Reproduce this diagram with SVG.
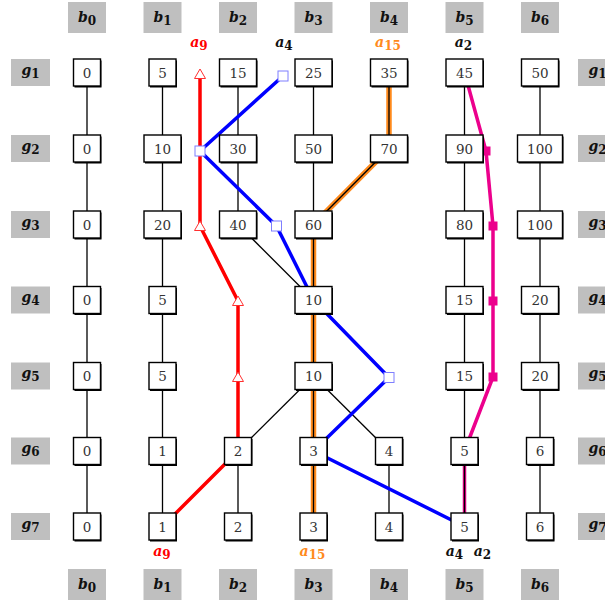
<svg xmlns="http://www.w3.org/2000/svg" width="605" height="601" viewBox="0 0 605 601">
<style>
.lab{fill:#bfbfbf}
.lt{font-family:"DejaVu Serif","Liberation Serif",serif;font-weight:bold;font-style:italic;font-size:14px;fill:#111;text-anchor:middle}
.sub{font-style:normal;font-size:12px}
.sh{fill:#000}
.bx{fill:#fff;stroke:#000;stroke-width:1.4}
.nt{font-family:"DejaVu Serif","Liberation Serif",serif;font-size:13.5px;fill:#333;text-anchor:middle}
.e{fill:none;stroke:#000;stroke-width:1.3}
.ann{font-family:"DejaVu Serif","Liberation Serif",serif;font-weight:bold;font-style:italic;font-size:14px;text-anchor:middle}
</style>
<defs>
<polygon id="tri" points="-5.5,4.5 0,-5 5.5,4.5" fill="#fff" stroke="#ff3030" stroke-width="1"/>
<rect id="bsq" x="-5" y="-5" width="10" height="10" fill="#fff" stroke="#7f7fff" stroke-width="1"/>
<rect id="msq" x="-4.5" y="-4.5" width="9" height="9" fill="#ec008c"/>
</defs>

<g id="labels">
<g id="lab-b-top">
<rect class="lab" x="68" y="2" width="38" height="31"/><text class="lt" x="87" y="21.5">b<tspan class="sub" dy="3">0</tspan></text>
<rect class="lab" x="143.5" y="2" width="38" height="31"/><text class="lt" x="162.5" y="21.5">b<tspan class="sub" dy="3">1</tspan></text>
<rect class="lab" x="219" y="2" width="38" height="31"/><text class="lt" x="238" y="21.5">b<tspan class="sub" dy="3">2</tspan></text>
<rect class="lab" x="294.5" y="2" width="38" height="31"/><text class="lt" x="313.5" y="21.5">b<tspan class="sub" dy="3">3</tspan></text>
<rect class="lab" x="370" y="2" width="38" height="31"/><text class="lt" x="389" y="21.5">b<tspan class="sub" dy="3">4</tspan></text>
<rect class="lab" x="445.5" y="2" width="38" height="31"/><text class="lt" x="464.5" y="21.5">b<tspan class="sub" dy="3">5</tspan></text>
<rect class="lab" x="521" y="2" width="38" height="31"/><text class="lt" x="540" y="21.5">b<tspan class="sub" dy="3">6</tspan></text>
</g>
<g id="lab-b-bottom">
<rect class="lab" x="68" y="569" width="38" height="31"/><text class="lt" x="87" y="588.5">b<tspan class="sub" dy="3">0</tspan></text>
<rect class="lab" x="143.5" y="569" width="38" height="31"/><text class="lt" x="162.5" y="588.5">b<tspan class="sub" dy="3">1</tspan></text>
<rect class="lab" x="219" y="569" width="38" height="31"/><text class="lt" x="238" y="588.5">b<tspan class="sub" dy="3">2</tspan></text>
<rect class="lab" x="294.5" y="569" width="38" height="31"/><text class="lt" x="313.5" y="588.5">b<tspan class="sub" dy="3">3</tspan></text>
<rect class="lab" x="370" y="569" width="38" height="31"/><text class="lt" x="389" y="588.5">b<tspan class="sub" dy="3">4</tspan></text>
<rect class="lab" x="445.5" y="569" width="38" height="31"/><text class="lt" x="464.5" y="588.5">b<tspan class="sub" dy="3">5</tspan></text>
<rect class="lab" x="521" y="569" width="38" height="31"/><text class="lt" x="540" y="588.5">b<tspan class="sub" dy="3">6</tspan></text>
</g>
<g id="lab-g-left">
<rect class="lab" x="11" y="59" width="39" height="27"/><text class="lt" x="30.5" y="74.5">g<tspan class="sub" dy="3">1</tspan></text>
<rect class="lab" x="11" y="135" width="39" height="27"/><text class="lt" x="30.5" y="150.5">g<tspan class="sub" dy="3">2</tspan></text>
<rect class="lab" x="11" y="211" width="39" height="27"/><text class="lt" x="30.5" y="226.5">g<tspan class="sub" dy="3">3</tspan></text>
<rect class="lab" x="11" y="286.5" width="39" height="27"/><text class="lt" x="30.5" y="302">g<tspan class="sub" dy="3">4</tspan></text>
<rect class="lab" x="11" y="362.5" width="39" height="27"/><text class="lt" x="30.5" y="378">g<tspan class="sub" dy="3">5</tspan></text>
<rect class="lab" x="11" y="437.5" width="39" height="27"/><text class="lt" x="30.5" y="453">g<tspan class="sub" dy="3">6</tspan></text>
<rect class="lab" x="11" y="513" width="39" height="27"/><text class="lt" x="30.5" y="528.5">g<tspan class="sub" dy="3">7</tspan></text>
</g>
<g id="lab-g-right">
<rect class="lab" x="578" y="59" width="39" height="27"/><text class="lt" x="597.5" y="74.5">g<tspan class="sub" dy="3">1</tspan></text>
<rect class="lab" x="578" y="135" width="39" height="27"/><text class="lt" x="597.5" y="150.5">g<tspan class="sub" dy="3">2</tspan></text>
<rect class="lab" x="578" y="211" width="39" height="27"/><text class="lt" x="597.5" y="226.5">g<tspan class="sub" dy="3">3</tspan></text>
<rect class="lab" x="578" y="286.5" width="39" height="27"/><text class="lt" x="597.5" y="302">g<tspan class="sub" dy="3">4</tspan></text>
<rect class="lab" x="578" y="362.5" width="39" height="27"/><text class="lt" x="597.5" y="378">g<tspan class="sub" dy="3">5</tspan></text>
<rect class="lab" x="578" y="437.5" width="39" height="27"/><text class="lt" x="597.5" y="453">g<tspan class="sub" dy="3">6</tspan></text>
<rect class="lab" x="578" y="513" width="39" height="27"/><text class="lt" x="597.5" y="528.5">g<tspan class="sub" dy="3">7</tspan></text>
</g>
</g>

<g id="annotations">
<text class="ann" x="199" y="47" fill="#ff0000">a<tspan class="sub" dy="3">9</tspan></text>
<text class="ann" x="284" y="47" fill="#111">a<tspan class="sub" dy="3">4</tspan></text>
<text class="ann" x="388" y="47" fill="#ff8a1c">a<tspan class="sub" dy="3">15</tspan></text>
<text class="ann" x="463.5" y="47" fill="#111">a<tspan class="sub" dy="3">2</tspan></text>
<text class="ann" x="162" y="556" fill="#ff0000">a<tspan class="sub" dy="3">9</tspan></text>
<text class="ann" x="312.5" y="556" fill="#ff8a1c">a<tspan class="sub" dy="3">15</tspan></text>
<text class="ann" x="454.5" y="556" fill="#111">a<tspan class="sub" dy="3">4</tspan></text>
<text class="ann" x="482.5" y="556" fill="#111">a<tspan class="sub" dy="3">2</tspan></text>
</g>

<g id="connectors">
<polyline id="path-a15" points="389,72.5 389,148.5 313.5,224.5 313.5,526.5" fill="none" stroke="#ff8a1c" stroke-width="5.5" stroke-linejoin="round"/>
<polyline id="path-a2" points="464.5,72.5 486,151 493,226 493,377 464.5,451 464.5,526.5" fill="none" stroke="#ec008c" stroke-width="3.5" stroke-linejoin="round"/>
<line class="e" x1="87" y1="72.5" x2="87" y2="526.5"/>
<line class="e" x1="162.5" y1="72.5" x2="162.5" y2="526.5"/>
<line class="e" x1="238" y1="72.5" x2="238" y2="224.5"/>
<line class="e" x1="238" y1="224.5" x2="313.5" y2="300"/>
<line class="e" x1="238" y1="451" x2="238" y2="526.5"/>
<line class="e" x1="313.5" y1="72.5" x2="313.5" y2="526.5"/>
<line class="e" x1="313.5" y1="376" x2="238" y2="451"/>
<line class="e" x1="313.5" y1="376" x2="389" y2="451"/>
<line class="e" x1="389" y1="72.5" x2="389" y2="148.5"/>
<line class="e" x1="389" y1="148.5" x2="313.5" y2="224.5"/>
<line class="e" x1="389" y1="451" x2="389" y2="526.5"/>
<line class="e" x1="464.5" y1="72.5" x2="464.5" y2="526.5"/>
<line class="e" x1="540" y1="72.5" x2="540" y2="526.5"/>
<polyline id="path-a9" points="162.5,526.5 238,451 238,301 200,226 200,74" fill="none" stroke="#ff0000" stroke-width="3.5" stroke-linejoin="round"/>
<polyline id="path-a4" points="283,76 200,151 276.5,226 313.5,300 389,377.5 313.5,451 464.5,526.5" fill="none" stroke="#0000ff" stroke-width="3.5" stroke-linejoin="round"/>
<use href="#tri" x="200" y="74"/>
<use href="#tri" x="200" y="226"/>
<use href="#tri" x="238" y="301"/>
<use href="#tri" x="238" y="377"/>
<use href="#bsq" x="283" y="76"/>
<use href="#bsq" x="200" y="151"/>
<use href="#bsq" x="276.5" y="226"/>
<use href="#bsq" x="389" y="377.5"/>
<use href="#msq" x="486" y="151"/>
<use href="#msq" x="493" y="226"/>
<use href="#msq" x="493" y="301"/>
<use href="#msq" x="493" y="377"/>
</g>

<g id="nodes">
<!-- b0 -->
<g id="n-b0-g1"><rect class="sh" x="74.5" y="60.5" width="27" height="27"/><rect class="bx" x="73.5" y="59" width="27" height="27"/><text class="nt" x="87" y="77.5">0</text></g>
<g id="n-b0-g2"><rect class="sh" x="74.5" y="136.5" width="27" height="27"/><rect class="bx" x="73.5" y="135" width="27" height="27"/><text class="nt" x="87" y="153.5">0</text></g>
<g id="n-b0-g3"><rect class="sh" x="74.5" y="212.5" width="27" height="27"/><rect class="bx" x="73.5" y="211" width="27" height="27"/><text class="nt" x="87" y="229.5">0</text></g>
<g id="n-b0-g4"><rect class="sh" x="74.5" y="288" width="27" height="27"/><rect class="bx" x="73.5" y="286.5" width="27" height="27"/><text class="nt" x="87" y="305">0</text></g>
<g id="n-b0-g5"><rect class="sh" x="74.5" y="364" width="27" height="27"/><rect class="bx" x="73.5" y="362.5" width="27" height="27"/><text class="nt" x="87" y="381">0</text></g>
<g id="n-b0-g6"><rect class="sh" x="74.5" y="439" width="27" height="27"/><rect class="bx" x="73.5" y="437.5" width="27" height="27"/><text class="nt" x="87" y="456">0</text></g>
<g id="n-b0-g7"><rect class="sh" x="74.5" y="514.5" width="27" height="27"/><rect class="bx" x="73.5" y="513" width="27" height="27"/><text class="nt" x="87" y="531.5">0</text></g>
<!-- b1 -->
<g id="n-b1-g1"><rect class="sh" x="150" y="60.5" width="27" height="27"/><rect class="bx" x="149" y="59" width="27" height="27"/><text class="nt" x="162.5" y="77.5">5</text></g>
<g id="n-b1-g2"><rect class="sh" x="145" y="136.5" width="37" height="27"/><rect class="bx" x="144" y="135" width="37" height="27"/><text class="nt" x="162.5" y="153.5">10</text></g>
<g id="n-b1-g3"><rect class="sh" x="145" y="212.5" width="37" height="27"/><rect class="bx" x="144" y="211" width="37" height="27"/><text class="nt" x="162.5" y="229.5">20</text></g>
<g id="n-b1-g4"><rect class="sh" x="150" y="288" width="27" height="27"/><rect class="bx" x="149" y="286.5" width="27" height="27"/><text class="nt" x="162.5" y="305">5</text></g>
<g id="n-b1-g5"><rect class="sh" x="150" y="364" width="27" height="27"/><rect class="bx" x="149" y="362.5" width="27" height="27"/><text class="nt" x="162.5" y="381">5</text></g>
<g id="n-b1-g6"><rect class="sh" x="150" y="439" width="27" height="27"/><rect class="bx" x="149" y="437.5" width="27" height="27"/><text class="nt" x="162.5" y="456">1</text></g>
<g id="n-b1-g7"><rect class="sh" x="150" y="514.5" width="27" height="27"/><rect class="bx" x="149" y="513" width="27" height="27"/><text class="nt" x="162.5" y="531.5">1</text></g>
<!-- b2 -->
<g id="n-b2-g1"><rect class="sh" x="220.5" y="60.5" width="37" height="27"/><rect class="bx" x="219.5" y="59" width="37" height="27"/><text class="nt" x="238" y="77.5">15</text></g>
<g id="n-b2-g2"><rect class="sh" x="220.5" y="136.5" width="37" height="27"/><rect class="bx" x="219.5" y="135" width="37" height="27"/><text class="nt" x="238" y="153.5">30</text></g>
<g id="n-b2-g3"><rect class="sh" x="220.5" y="212.5" width="37" height="27"/><rect class="bx" x="219.5" y="211" width="37" height="27"/><text class="nt" x="238" y="229.5">40</text></g>
<g id="n-b2-g6"><rect class="sh" x="225.5" y="439" width="27" height="27"/><rect class="bx" x="224.5" y="437.5" width="27" height="27"/><text class="nt" x="238" y="456">2</text></g>
<g id="n-b2-g7"><rect class="sh" x="225.5" y="514.5" width="27" height="27"/><rect class="bx" x="224.5" y="513" width="27" height="27"/><text class="nt" x="238" y="531.5">2</text></g>
<!-- b3 -->
<g id="n-b3-g1"><rect class="sh" x="296" y="60.5" width="37" height="27"/><rect class="bx" x="295" y="59" width="37" height="27"/><text class="nt" x="313.5" y="77.5">25</text></g>
<g id="n-b3-g2"><rect class="sh" x="296" y="136.5" width="37" height="27"/><rect class="bx" x="295" y="135" width="37" height="27"/><text class="nt" x="313.5" y="153.5">50</text></g>
<g id="n-b3-g3"><rect class="sh" x="296" y="212.5" width="37" height="27"/><rect class="bx" x="295" y="211" width="37" height="27"/><text class="nt" x="313.5" y="229.5">60</text></g>
<g id="n-b3-g4"><rect class="sh" x="296" y="288" width="37" height="27"/><rect class="bx" x="295" y="286.5" width="37" height="27"/><text class="nt" x="313.5" y="305">10</text></g>
<g id="n-b3-g5"><rect class="sh" x="296" y="364" width="37" height="27"/><rect class="bx" x="295" y="362.5" width="37" height="27"/><text class="nt" x="313.5" y="381">10</text></g>
<g id="n-b3-g6"><rect class="sh" x="301" y="439" width="27" height="27"/><rect class="bx" x="300" y="437.5" width="27" height="27"/><text class="nt" x="313.5" y="456">3</text></g>
<g id="n-b3-g7"><rect class="sh" x="301" y="514.5" width="27" height="27"/><rect class="bx" x="300" y="513" width="27" height="27"/><text class="nt" x="313.5" y="531.5">3</text></g>
<!-- b4 -->
<g id="n-b4-g1"><rect class="sh" x="371.5" y="60.5" width="37" height="27"/><rect class="bx" x="370.5" y="59" width="37" height="27"/><text class="nt" x="389" y="77.5">35</text></g>
<g id="n-b4-g2"><rect class="sh" x="371.5" y="136.5" width="37" height="27"/><rect class="bx" x="370.5" y="135" width="37" height="27"/><text class="nt" x="389" y="153.5">70</text></g>
<g id="n-b4-g6"><rect class="sh" x="376.5" y="439" width="27" height="27"/><rect class="bx" x="375.5" y="437.5" width="27" height="27"/><text class="nt" x="389" y="456">4</text></g>
<g id="n-b4-g7"><rect class="sh" x="376.5" y="514.5" width="27" height="27"/><rect class="bx" x="375.5" y="513" width="27" height="27"/><text class="nt" x="389" y="531.5">4</text></g>
<!-- b5 -->
<g id="n-b5-g1"><rect class="sh" x="447" y="60.5" width="37" height="27"/><rect class="bx" x="446" y="59" width="37" height="27"/><text class="nt" x="464.5" y="77.5">45</text></g>
<g id="n-b5-g2"><rect class="sh" x="447" y="136.5" width="37" height="27"/><rect class="bx" x="446" y="135" width="37" height="27"/><text class="nt" x="464.5" y="153.5">90</text></g>
<g id="n-b5-g3"><rect class="sh" x="447" y="212.5" width="37" height="27"/><rect class="bx" x="446" y="211" width="37" height="27"/><text class="nt" x="464.5" y="229.5">80</text></g>
<g id="n-b5-g4"><rect class="sh" x="447" y="288" width="37" height="27"/><rect class="bx" x="446" y="286.5" width="37" height="27"/><text class="nt" x="464.5" y="305">15</text></g>
<g id="n-b5-g5"><rect class="sh" x="447" y="364" width="37" height="27"/><rect class="bx" x="446" y="362.5" width="37" height="27"/><text class="nt" x="464.5" y="381">15</text></g>
<g id="n-b5-g6"><rect class="sh" x="452" y="439" width="27" height="27"/><rect class="bx" x="451" y="437.5" width="27" height="27"/><text class="nt" x="464.5" y="456">5</text></g>
<g id="n-b5-g7"><rect class="sh" x="452" y="514.5" width="27" height="27"/><rect class="bx" x="451" y="513" width="27" height="27"/><text class="nt" x="464.5" y="531.5">5</text></g>
<!-- b6 -->
<g id="n-b6-g1"><rect class="sh" x="522.5" y="60.5" width="37" height="27"/><rect class="bx" x="521.5" y="59" width="37" height="27"/><text class="nt" x="540" y="77.5">50</text></g>
<g id="n-b6-g2"><rect class="sh" x="518.5" y="136.5" width="45" height="27"/><rect class="bx" x="517.5" y="135" width="45" height="27"/><text class="nt" x="540" y="153.5">100</text></g>
<g id="n-b6-g3"><rect class="sh" x="518.5" y="212.5" width="45" height="27"/><rect class="bx" x="517.5" y="211" width="45" height="27"/><text class="nt" x="540" y="229.5">100</text></g>
<g id="n-b6-g4"><rect class="sh" x="522.5" y="288" width="37" height="27"/><rect class="bx" x="521.5" y="286.5" width="37" height="27"/><text class="nt" x="540" y="305">20</text></g>
<g id="n-b6-g5"><rect class="sh" x="522.5" y="364" width="37" height="27"/><rect class="bx" x="521.5" y="362.5" width="37" height="27"/><text class="nt" x="540" y="381">20</text></g>
<g id="n-b6-g6"><rect class="sh" x="527.5" y="439" width="27" height="27"/><rect class="bx" x="526.5" y="437.5" width="27" height="27"/><text class="nt" x="540" y="456">6</text></g>
<g id="n-b6-g7"><rect class="sh" x="527.5" y="514.5" width="27" height="27"/><rect class="bx" x="526.5" y="513" width="27" height="27"/><text class="nt" x="540" y="531.5">6</text></g>
</g>
</svg>
